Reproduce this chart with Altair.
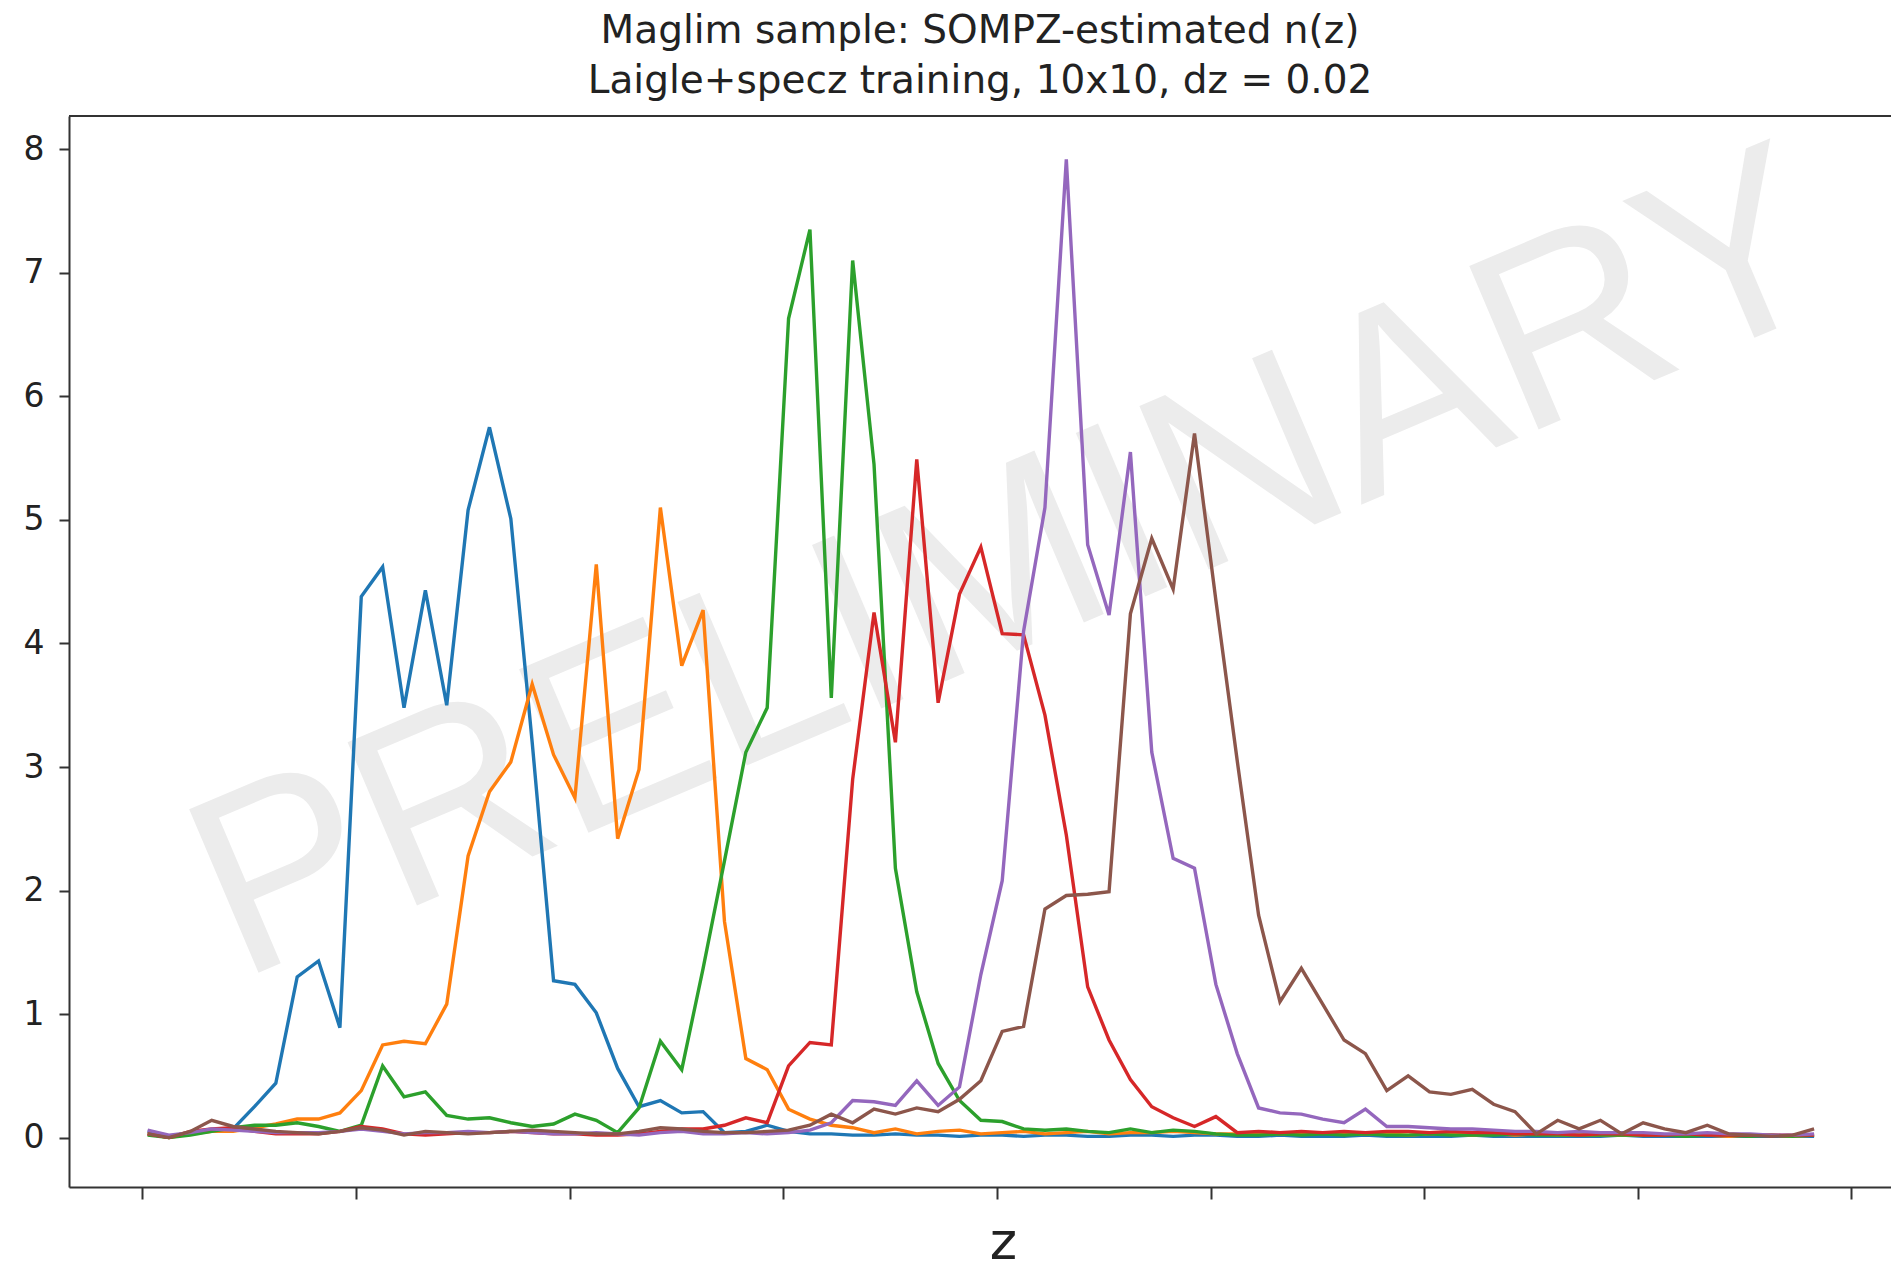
import altair as alt
import pandas as pd

# ---------------- data ----------------
DZ = 0.02
Z_START = 0.005
N_PTS = 79
z_grid = [round(Z_START + DZ * i, 4) for i in range(N_PTS)]

bin_names = ["bin 1", "bin 2", "bin 3", "bin 4", "bin 5", "bin 6"]
bin_colors = ["#1f77b4", "#ff7f0e", "#2ca02c", "#d62728", "#9467bd", "#8c564b"]

nz_blue = [0.05, 0.01, 0.04, 0.06, 0.07, 0.25, 0.44, 1.30, 1.43, 0.89,
           4.38, 4.62, 3.48, 4.43, 3.50, 5.08, 5.75, 5.01, 3.20, 1.27,
           1.24, 1.01, 0.56, 0.25, 0.30, 0.20, 0.21, 0.04, 0.05, 0.10,
           0.05, 0.03, 0.03, 0.02, 0.02, 0.03, 0.02, 0.02, 0.01, 0.02,
           0.02, 0.01, 0.02, 0.02, 0.01, 0.01, 0.02, 0.02, 0.01, 0.02,
           0.02, 0.01, 0.01, 0.02, 0.01, 0.01, 0.01, 0.02, 0.01, 0.01,
           0.01, 0.01, 0.02, 0.01, 0.01, 0.01, 0.01, 0.01, 0.01, 0.02,
           0.01, 0.01, 0.01, 0.01, 0.01, 0.01, 0.01, 0.01, 0.01]

nz_orange = [0.03, 0.00, 0.03, 0.05, 0.05, 0.08, 0.11, 0.15, 0.15, 0.20,
             0.38, 0.75, 0.78, 0.76, 1.08, 2.28, 2.80, 3.04, 3.67, 3.10,
             2.75, 4.64, 2.42, 2.98, 5.10, 3.82, 4.27, 1.75, 0.64, 0.55,
             0.23, 0.15, 0.10, 0.08, 0.04, 0.07, 0.03, 0.05, 0.06, 0.03,
             0.04, 0.05, 0.03, 0.04, 0.05, 0.03, 0.04, 0.04, 0.05, 0.04,
             0.03, 0.03, 0.04, 0.03, 0.03, 0.04, 0.03, 0.03, 0.03, 0.02,
             0.03, 0.03, 0.02, 0.03, 0.02, 0.03, 0.02, 0.02, 0.02, 0.02,
             0.02, 0.02, 0.02, 0.02, 0.01, 0.02, 0.02, 0.01, 0.02]

nz_green = [0.02, 0.00, 0.02, 0.05, 0.08, 0.10, 0.10, 0.12, 0.09, 0.05,
            0.10, 0.58, 0.33, 0.37, 0.18, 0.15, 0.16, 0.12, 0.09, 0.11,
            0.19, 0.14, 0.04, 0.24, 0.78, 0.55, 1.37, 2.24, 3.12, 3.48,
            6.63, 7.35, 3.56, 7.10, 5.45, 2.18, 1.18, 0.60, 0.30, 0.14,
            0.13, 0.07, 0.06, 0.07, 0.05, 0.04, 0.07, 0.04, 0.06, 0.05,
            0.03, 0.02, 0.02, 0.03, 0.02, 0.03, 0.02, 0.03, 0.02, 0.02,
            0.03, 0.02, 0.02, 0.02, 0.03, 0.02, 0.02, 0.02, 0.02, 0.02,
            0.02, 0.02, 0.01, 0.02, 0.02, 0.01, 0.02, 0.01, 0.02]

nz_red = [0.03, 0.00, 0.05, 0.07, 0.08, 0.05, 0.03, 0.03, 0.03, 0.05,
          0.09, 0.07, 0.03, 0.02, 0.03, 0.04, 0.04, 0.05, 0.04, 0.03,
          0.03, 0.02, 0.02, 0.03, 0.05, 0.07, 0.07, 0.10, 0.16, 0.12,
          0.58, 0.77, 0.75, 2.90, 4.25, 3.20, 5.49, 3.52, 4.40, 4.78,
          4.08, 4.07, 3.42, 2.45, 1.22, 0.79, 0.47, 0.25, 0.16, 0.09,
          0.17, 0.04, 0.05, 0.04, 0.05, 0.04, 0.05, 0.04, 0.05, 0.05,
          0.04, 0.05, 0.04, 0.04, 0.03, 0.03, 0.03, 0.02, 0.03, 0.03,
          0.02, 0.02, 0.03, 0.02, 0.02, 0.02, 0.02, 0.02, 0.02]

nz_purple = [0.06, 0.02, 0.04, 0.07, 0.06, 0.05, 0.04, 0.04, 0.04, 0.05,
             0.07, 0.05, 0.03, 0.04, 0.04, 0.05, 0.04, 0.05, 0.04, 0.03,
             0.03, 0.04, 0.03, 0.02, 0.04, 0.05, 0.03, 0.03, 0.04, 0.03,
             0.04, 0.06, 0.12, 0.30, 0.29, 0.26, 0.46, 0.26, 0.41, 1.32,
             2.08, 4.10, 5.10, 7.92, 4.80, 4.23, 5.55, 3.12, 2.26, 2.18,
             1.24, 0.68, 0.24, 0.20, 0.19, 0.15, 0.12, 0.23, 0.09, 0.09,
             0.08, 0.07, 0.07, 0.06, 0.05, 0.05, 0.04, 0.05, 0.04, 0.04,
             0.04, 0.03, 0.03, 0.04, 0.03, 0.03, 0.02, 0.02, 0.03]

nz_brown = [0.03, 0.00, 0.05, 0.14, 0.09, 0.07, 0.05, 0.04, 0.03, 0.05,
            0.08, 0.06, 0.02, 0.05, 0.04, 0.03, 0.04, 0.05, 0.06, 0.05,
            0.04, 0.03, 0.03, 0.05, 0.08, 0.07, 0.05, 0.04, 0.04, 0.05,
            0.06, 0.10, 0.19, 0.12, 0.23, 0.19, 0.24, 0.21, 0.31, 0.46,
            0.86, 0.90, 1.85, 1.96, 1.97, 1.99, 4.24, 4.85, 4.44, 5.70,
            4.35, 3.05, 1.80, 1.10, 1.37, 1.08, 0.79, 0.68, 0.38, 0.50,
            0.37, 0.35, 0.39, 0.27, 0.21, 0.03, 0.14, 0.07, 0.14, 0.03,
            0.12, 0.07, 0.04, 0.10, 0.03, 0.02, 0.01, 0.02, 0.07]

x_ticks = [0.0, 0.2, 0.4, 0.6, 0.8, 1.0, 1.2, 1.4, 1.6]
y_ticks = [0, 1, 2, 3, 4, 5, 6, 7, 8]

title_lines = ["Maglim sample: SOMPZ-estimated n(z)",
               "Laigle+specz training, 10x10, dz = 0.02"]
x_title = "z"
watermark_text = ["PRELIMINARY"]
watermark_z = [0.814]
watermark_n = [4.6]

# ---------------- build table ----------------
all_series = [nz_blue, nz_orange, nz_green, nz_red, nz_purple, nz_brown]
rows = []
for name, vals in zip(bin_names, all_series):
    for zi, v in zip(z_grid, vals):
        rows.append({"bin": name, "z": zi, "n": v})
df = pd.DataFrame(rows)
wm_df = pd.DataFrame({"z": watermark_z, "n": watermark_n, "t": watermark_text})

# ---------------- layout ----------------
W, H = 1822, 1071
PAD = {"left": 69, "top": 116, "right": 0, "bottom": 77}
AX = "#333333"
TXT = "#222222"
FONT = "DejaVu Sans"

xscale = alt.Scale(domain=[-0.0686, 1.637], nice=False, zero=False)
yscale = alt.Scale(domain=[-0.40, 8.27], nice=False, zero=False)

x_axis = alt.Axis(values=x_ticks, labels=False, ticks=True, tickSize=12,
                  tickWidth=2, tickColor=AX, domainColor=AX, domainWidth=2,
                  grid=False, title=x_title, titleFont=FONT, titleFontSize=52,
                  titleFontWeight="normal", titleColor=TXT, titleX=934,
                  titleY=71, titleBaseline="alphabetic", titleAlign="center")
y_axis = alt.Axis(values=y_ticks, format="d", ticks=True, tickSize=10,
                  tickWidth=2, tickColor=AX, domainColor=AX, domainWidth=2,
                  grid=False, title=None, labelFont=FONT, labelFontSize=33,
                  labelColor=TXT, labelPadding=15)

x_enc = alt.X("z:Q", scale=xscale, axis=x_axis)
y_enc = alt.Y("n:Q", scale=yscale, axis=y_axis)

watermark = alt.Chart(wm_df).mark_text(
    font="Liberation Sans", fontSize=258, angle=337, color="#ececec",
    align="center", baseline="middle"
).encode(x=x_enc, y=y_enc, text="t:N")

lines = alt.Chart(df).mark_line(strokeWidth=3.4, clip=True).encode(
    x=x_enc, y=y_enc,
    color=alt.Color("bin:N", scale=alt.Scale(domain=bin_names, range=bin_colors),
                    legend=None),
    detail="bin:N",
)

top_border = alt.Chart(wm_df).mark_rule(color=AX, strokeWidth=2).encode(
    x=alt.value(0), x2=alt.value(W), y=alt.value(0)
)

chart = alt.layer(watermark, lines, top_border).properties(
    width=W, height=H,
    padding=PAD,
    autosize=alt.AutoSizeParams(type="none"),
    title=alt.Title(text=title_lines, font=FONT, fontSize=39,
                    fontWeight="normal", color=TXT, offset=28, dy=50,
                    frame="group", baseline="alphabetic", lineHeight=50,
                    anchor="middle"),
).configure_view(stroke=None).configure(background="white")

chart.save("out.html", embed_options={"renderer": "svg", "actions": False})
